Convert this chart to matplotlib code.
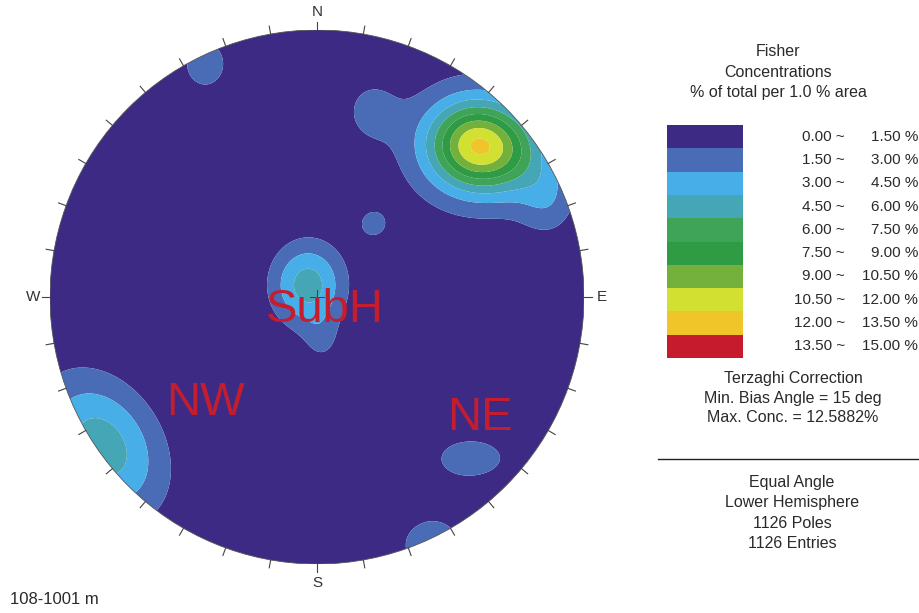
import numpy as np
import matplotlib
matplotlib.use("Agg")
import matplotlib.pyplot as plt
from matplotlib.patches import Circle, Rectangle

plt.rcParams['font.family'] = ['Liberation Sans', 'DejaVu Sans']

# ---- data: contour levels and legend ----
levels = [0.0, 1.5, 3.0, 4.5, 6.0, 7.5, 9.0, 10.5, 12.0, 13.5, 15.0]
level_colors = ['#3c2a84', '#4a6cb6', '#48aee8', '#45a6b6', '#3fa457',
                '#2f9c45', '#74b13c', '#d2e032', '#f0c52a', '#c51b2c']

# ---- data: pole concentration clusters (stereonet unit coords) ----
cluster_x = [0.588, 0.742, 0.588, 0.199, 0.865, -0.034, 0.019, 0.210, -0.419, -0.805, 0.577, 0.431]
cluster_y = [0.569, 0.532, 0.569, 0.700, 0.363, 0.045, -0.161, 0.273, 0.873, -0.560, -0.603, -0.929]
cluster_peak = [9.3, 3.0, 1.8, 1.5, 2.0, 5.2, 1.4, 1.7, 2.1, 5.3, 1.9, 2.1]
cluster_sx = [0.120, 0.112, 0.262, 0.082, 0.075, 0.097, 0.050, 0.050, 0.082, 0.200, 0.157, 0.120]
cluster_sy = [0.112, 0.112, 0.232, 0.094, 0.094, 0.112, 0.070, 0.050, 0.094, 0.145, 0.090, 0.105]
cluster_angle = [0, 0, 0, 0, 0, 0, 0, 0, 0, -58, 0, 0]

region_labels = ['SubH', 'NW', 'NE']
compass = ['N', 'E', 'S', 'W']

header = ['Fisher', 'Concentrations', '% of total per 1.0 % area']
footer1 = ['Terzaghi Correction', 'Min. Bias Angle = 15 deg', 'Max. Conc. = 12.5882%']
footer2 = ['Equal Angle', 'Lower Hemisphere', '1126 Poles', '1126 Entries']
depth_label = '108-1001 m'

W, H = 920, 613
fig = plt.figure(figsize=(W / 100, H / 100), dpi=100)
fig.patch.set_facecolor('white')

def fx(px):
    return px / W

def fy(py):
    return 1 - py / H

# stereonet axes: circle centre (317,297) px, radius 267 px
cx_px, cy_px, R = 317, 297, 267
ax = fig.add_axes([fx(cx_px - R), fy(cy_px + R), 2 * R / W, 2 * R / H])
ax.set_xlim(-1, 1)
ax.set_ylim(-1, 1)
ax.set_aspect('equal')
ax.axis('off')

g = np.linspace(-1.0, 1.0, 501)
X, Y = np.meshgrid(g, g)
Z = np.zeros_like(X)
for x0, y0, a, sx, sy, ang in zip(cluster_x, cluster_y, cluster_peak,
                                  cluster_sx, cluster_sy, cluster_angle):
    t = np.deg2rad(ang)
    u = (X - x0) * np.cos(t) + (Y - y0) * np.sin(t)
    v = -(X - x0) * np.sin(t) + (Y - y0) * np.cos(t)
    Z += a * np.exp(-(u ** 2 / (2 * sx ** 2) + v ** 2 / (2 * sy ** 2)))

cf = ax.contourf(X, Y, Z, levels=levels, colors=level_colors, antialiased=True)
clip = Circle((0, 0), 1.0, transform=ax.transData, facecolor='none', edgecolor='none')
ax.add_patch(clip)
cf.set_clip_path(clip)
ax.add_patch(Circle((0, 0), 1.0, facecolor='none', edgecolor='#555555', lw=0.6))

# ticks every 10 degrees
for deg in range(0, 360, 10):
    t = np.deg2rad(deg)
    ax.plot([np.sin(t) * 1.0, np.sin(t) * 1.03], [np.cos(t) * 1.0, np.cos(t) * 1.03],
            color='#444444', lw=0.8, clip_on=False)

# centre cross
ax.plot([-0.025, 0.025], [0, 0], color='#3a3a5a', lw=0.7)
ax.plot([0, 0], [-0.025, 0.025], color='#3a3a5a', lw=0.7)

# compass labels
comp_pos = {'N': (0, 1.068), 'E': (1.068, 0), 'S': (0, -1.07), 'W': (-1.065, 0)}
for c in compass:
    px, py = comp_pos[c]
    ax.text(px, py, c, ha='center', va='center', fontsize=11, color='#333333', clip_on=False)

# region labels (red)
label_pos = {'SubH': (325, 310), 'NW': (206, 403), 'NE': (480, 418)}
for lab in region_labels:
    px, py = label_pos[lab]
    fig.text(fx(px), fy(py), lab, ha='center', va='center', fontsize=34, color='#c41e2e')

# legend header
for i, line in enumerate(header):
    fig.text(fx(778), fy(52 + i * 20.5), line, ha='center', va='center', fontsize=11.5, color='#2a2a2a')

# legend colour boxes
band_h = 23.3
top = 125
for i in range(len(level_colors)):
    y0 = top + i * band_h
    fig.patches.append(Rectangle((fx(667), fy(y0 + band_h)), (743 - 667) / W, band_h / H,
                                 transform=fig.transFigure, facecolor=level_colors[i],
                                 edgecolor='none'))
    yc = y0 + band_h / 2
    lo, hi = levels[i], levels[i + 1]
    fig.text(fx(845), fy(yc), f"{lo:.2f} ~", ha='right', va='center', fontsize=11, color='#2a2a2a')
    fig.text(fx(918), fy(yc), f"{hi:.2f} %", ha='right', va='center', fontsize=11, color='#2a2a2a')

for i, line in enumerate(footer1):
    fig.text(fx(793), fy(378 + i * 20), line, ha='center', va='center', fontsize=11.5, color='#2a2a2a')

fig.add_artist(plt.Line2D([fx(658), fx(920)], [fy(459), fy(459)], color='#222222', lw=1.0,
                          transform=fig.transFigure))

for i, line in enumerate(footer2):
    fig.text(fx(792), fy(482 + i * 20.5), line, ha='center', va='center', fontsize=11.5, color='#2a2a2a')

fig.text(fx(10), fy(599), depth_label, ha='left', va='center', fontsize=12, color='#2a2a2a')

fig.savefig('out.png', dpi=100, facecolor='white')
